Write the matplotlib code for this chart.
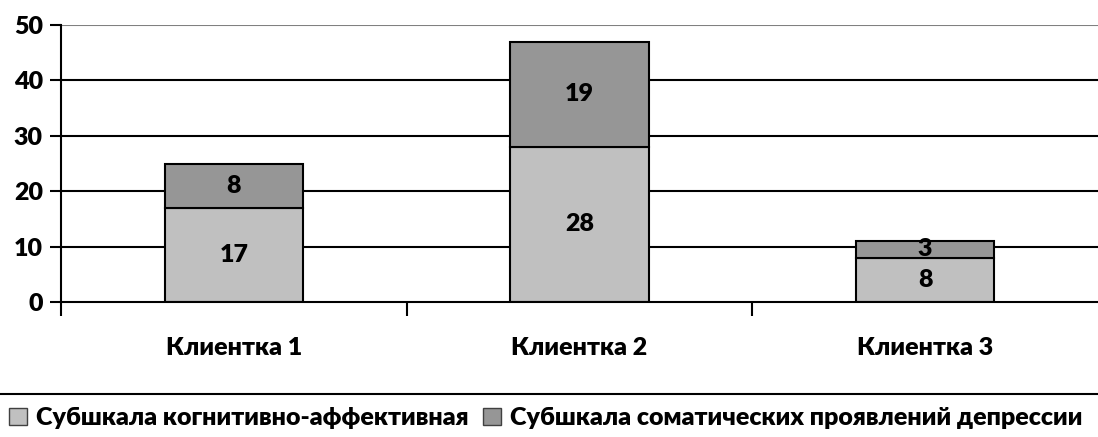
import matplotlib.pyplot as plt
from matplotlib.lines import Line2D
from matplotlib import font_manager
import numpy as np

clients = ["Клиентка 1", "Клиентка 2", "Клиентка 3"]
cognitive = [17, 28, 8]
somatic = [8, 19, 3]
series_names = ["Субшкала когнитивно-аффективная",
                "Субшкала соматических проявлений депрессии"]

names = {f.name for f in font_manager.fontManager.ttflist}
plt.rcParams["font.family"] = ["Lato", "DejaVu Sans"] if "Lato" in names else ["DejaVu Sans"]
W = "heavy"
FS = 18

fig = plt.figure(figsize=(10.98, 4.37), dpi=100)
ax = fig.add_axes([61 / 1098, 1 - 302 / 437, 1 - 61 / 1098, 277 / 437])

x = np.arange(len(clients))
b1 = ax.bar(x, cognitive, width=0.4, color="#c0c0c0", edgecolor="black", linewidth=1.5, zorder=3)
b2 = ax.bar(x, somatic, width=0.4, bottom=cognitive, color="#969696", edgecolor="black", linewidth=1.5, zorder=3)

for bars, vals, base in [(b1, cognitive, [0] * 3), (b2, somatic, cognitive)]:
    for rect, v, b in zip(bars, vals, base):
        ax.text(rect.get_x() + rect.get_width() / 2, b + v / 2, str(v),
                ha="center", va="center", fontsize=FS, fontweight=W, zorder=4)

ax.set_xlim(-0.5, 2.5)
ax.set_ylim(0, 50)
ax.set_yticks(range(0, 51, 10))
for y in range(10, 50, 10):
    ax.axhline(y, color="black", linewidth=1.5, zorder=1)
ax.axhline(50, color="#808080", linewidth=1.5, zorder=1)

for s in ["top", "right"]:
    ax.spines[s].set_visible(False)
ax.spines["left"].set_linewidth(1.5)
ax.spines["bottom"].set_linewidth(1.5)
ax.spines["left"].set_zorder(5)
ax.spines["bottom"].set_zorder(5)

ax.set_xticks(x)
ax.set_xticklabels(clients, fontsize=FS, fontweight=W)
ax.tick_params(axis="x", which="major", length=0, pad=25)
ax.set_xticks([-0.5, 0.5, 1.5], minor=True)
ax.tick_params(axis="x", which="minor", length=10, width=1.5, direction="out")
ax.tick_params(axis="y", length=8, width=1.5, labelsize=FS, pad=5)
for lab in ax.get_yticklabels():
    lab.set_fontweight(W)

fig.add_artist(Line2D([0, 1], [1 - 394 / 437] * 2, color="black", linewidth=1.5))

handles = [plt.Rectangle((0, 0), 1, 1, facecolor="#c0c0c0", edgecolor="#404040", linewidth=1),
           plt.Rectangle((0, 0), 1, 1, facecolor="#969696", edgecolor="#404040", linewidth=1)]
fig.legend(handles, series_names, loc="center", bbox_to_anchor=(0.497, 1 - 418 / 437),
           ncol=2, frameon=False, handlelength=0.7, handleheight=0.7, handletextpad=0.35,
           columnspacing=0.6, prop={"size": FS, "weight": W})

fig.savefig("out.png", dpi=100)
